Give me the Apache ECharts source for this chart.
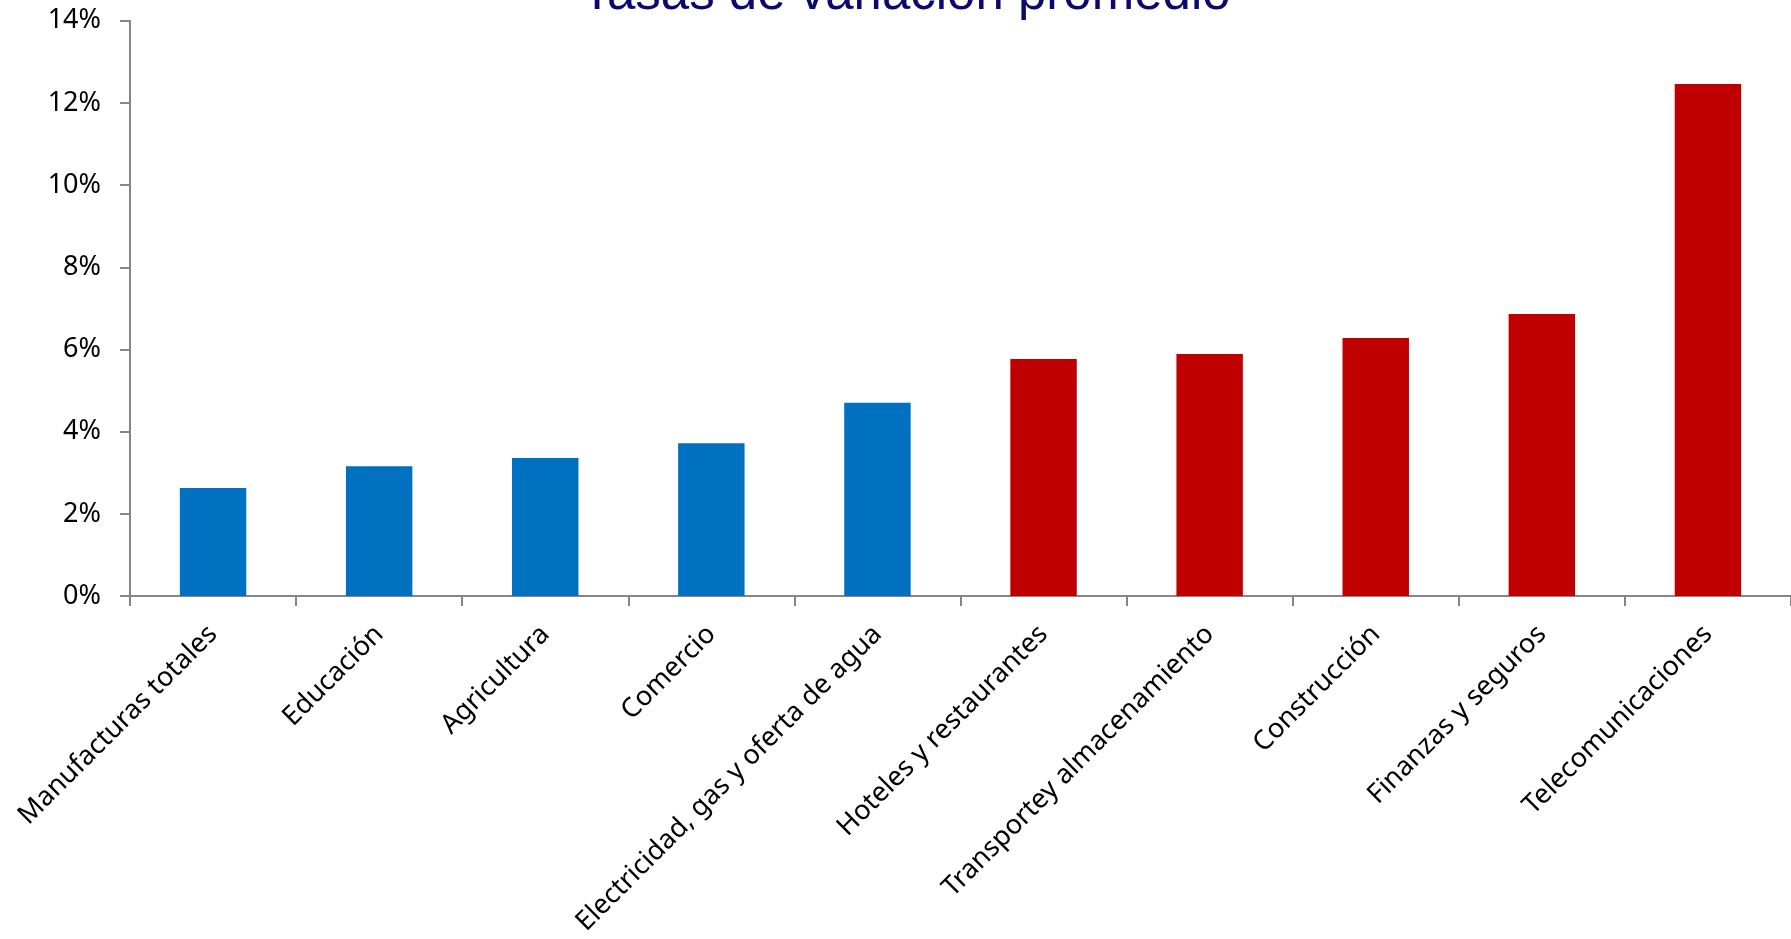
<!DOCTYPE html>
<html>
<head>
<meta charset="utf-8">
<script src="https://cdn.jsdelivr.net/npm/echarts@6/dist/echarts.min.js"></script>
<style>html,body{margin:0;padding:0;background:#fff}#c{width:1791px;height:939px}</style>
</head>
<body>
<div id="c"></div>
<script>
const titleText = 'Tasas de variación promedio';
const categories = ['Manufacturas totales','Educación','Agricultura','Comercio','Electricidad, gas y oferta de agua','Hoteles y restaurantes','Transportey almacenamiento','Construcción','Finanzas y seguros','Telecomunicaciones'];
const values = [2.63, 3.16, 3.36, 3.72, 4.70, 5.77, 5.89, 6.28, 6.86, 12.46];
const highlighted = [false, false, false, false, false, true, true, true, true, true];
const yTicks = [0, 2, 4, 6, 8, 10, 12, 14];

const chart = echarts.init(document.getElementById('c'), null, {renderer: 'canvas'});
const axisColor = '#868686';
chart.setOption({
  animation: false,
  backgroundColor: '#ffffff',
  graphic: [{
    type: 'text',
    x: 906, y: -5,
    style: {
      text: titleText,
      font: '51px "Liberation Sans", Arial, sans-serif',
      fill: '#0a0a6e',
      align: 'center', textAlign: 'center',
      verticalAlign: 'middle', textVerticalAlign: 'middle'
    }
  }],
  grid: {left: 130, right: -3, top: 20.7, bottom: 343, containLabel: false},
  xAxis: {
    type: 'category',
    data: categories,
    axisLine: {lineStyle: {color: axisColor, width: 2}},
    axisTick: {show: true, length: 10, lineStyle: {color: axisColor, width: 2}},
    axisLabel: {
      rotate: 45, interval: 0, margin: 34,
      color: '#000', fontSize: 27, fontFamily: '"Noto Sans", "Open Sans", sans-serif'
    }
  },
  yAxis: {
    type: 'value',
    min: yTicks[0], max: yTicks[yTicks.length - 1], interval: 2,
    splitLine: {show: false},
    axisLine: {show: true, lineStyle: {color: axisColor, width: 2}},
    axisTick: {show: true, length: 10, lineStyle: {color: axisColor, width: 2}},
    axisLabel: {
      margin: 29, color: '#000', fontSize: 27,
      fontFamily: '"Noto Sans", "Open Sans", sans-serif',
      formatter: v => v + '%'
    }
  },
  series: [{
    type: 'bar',
    data: values,
    barWidth: '40%',
    itemStyle: {
      color: p => highlighted[p.dataIndex] ? '#c00000' : '#0070c0'
    }
  }]
});
</script>
</body>
</html>
